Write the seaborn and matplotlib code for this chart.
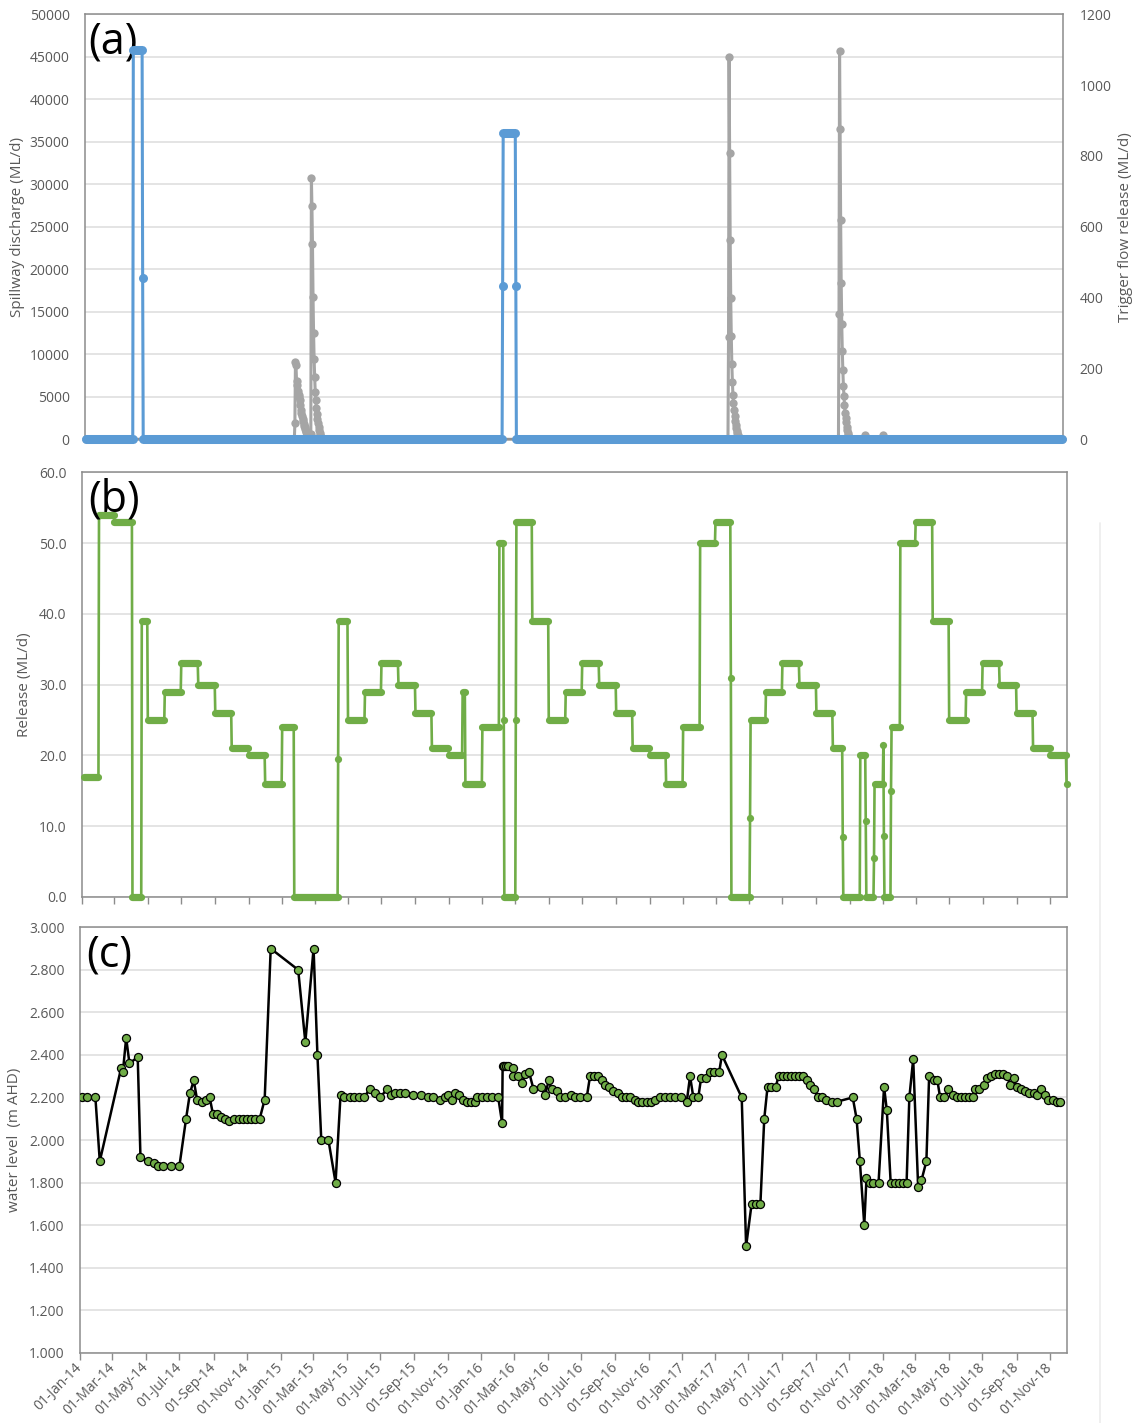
import numpy as np
import pandas as pd
import matplotlib
matplotlib.use("Agg")
import matplotlib.pyplot as plt
import matplotlib.dates as mdates
from matplotlib.lines import Line2D
from matplotlib.ticker import FixedLocator, FormatStrFormatter
import seaborn as sns

# ---------------- DATA ----------------
# (a) Trigger flow release (ML/d, right axis): constant runs (start, end, value)
trigger_start = ["2014-01-12", "2014-04-08", "2014-04-25", "2014-04-26",
                 "2016-02-09", "2016-02-10", "2016-03-04", "2016-03-05"]
trigger_end = ["2014-04-07", "2014-04-24", "2014-04-25", "2016-02-08",
               "2016-02-09", "2016-03-03", "2016-03-04", "2018-11-23"]
trigger_value = [0, 1100, 456, 0, 432, 864, 432, 0]

# (a) Spillway discharge (ML/d, left axis): daily values during spill events
spill_base_dates = ["2014-01-12", "2018-11-23"]
spill_2015_start = "2015-01-26"
spill_2015 = [0, 1950, 9100, 8700, 6900, 6400, 5700, 5300, 5000, 5200, 4600,
              4000, 3500, 3100, 2700, 2400, 2100, 1800, 1600, 1400, 1200, 1000,
              900, 800, 700, 600, 500, 400, 300, 200, 600, 30800, 27400, 23000,
              16800, 12500, 9400, 7300, 5600, 4600, 3700, 3000, 2400, 1900, 1500,
              1100, 800, 500, 300, 100, 0]
spill_2017a_start = "2017-03-25"
spill_2017a = [0, 12000, 45000, 33700, 23500, 16600, 12200, 8900, 6800, 5200,
               4300, 3500, 2800, 2200, 1700, 1300, 1000, 700, 500, 300, 200, 100, 0]
spill_2017b_start = "2017-10-12"
spill_2017b = [0, 14700, 45700, 36500, 25800, 18400, 13600, 10400, 8100, 6300,
               5100, 4000, 3100, 2500, 2000, 1500, 1100, 800, 500, 300, 150, 0]
spill_blip_dates = ["2017-11-29", "2017-11-30", "2017-12-01",
                    "2017-12-31", "2018-01-01", "2018-01-02"]
spill_blip_values = [0, 500, 0, 0, 500, 0]

# (b) Release (ML/d): constant runs (start, end, value); start == end -> single point
release_start = [
    "2014-01-05", "2014-02-01", "2014-03-01", "2014-04-03", "2014-04-20", "2014-05-01",
    "2014-06-01", "2014-07-01", "2014-08-01", "2014-09-01", "2014-10-01", "2014-11-01",
    "2014-12-01",
    "2015-01-01", "2015-01-23", "2015-04-13", "2015-04-14", "2015-05-01", "2015-06-01",
    "2015-07-01", "2015-08-01", "2015-09-01", "2015-10-01", "2015-11-01", "2015-11-26",
    "2015-12-01",
    "2016-01-01", "2016-02-01", "2016-02-09", "2016-02-10", "2016-03-02", "2016-03-03",
    "2016-04-01", "2016-05-01", "2016-06-01", "2016-07-01", "2016-08-01", "2016-09-01",
    "2016-10-01", "2016-11-01", "2016-12-01",
    "2017-01-01", "2017-02-01", "2017-03-01", "2017-03-29", "2017-03-30", "2017-05-03",
    "2017-05-04", "2017-06-01", "2017-07-01", "2017-08-01", "2017-09-01", "2017-10-01",
    "2017-10-19", "2017-10-20", "2017-11-20", "2017-11-30", "2017-12-01", "2017-12-15",
    "2017-12-16",
    "2018-01-01", "2018-01-02", "2018-01-03", "2018-01-15", "2018-01-16", "2018-02-01",
    "2018-03-01", "2018-04-01", "2018-05-01", "2018-06-01", "2018-07-01", "2018-08-01",
    "2018-09-01", "2018-10-01", "2018-11-01", "2018-12-01"]
release_end = [
    "2014-01-31", "2014-02-28", "2014-04-02", "2014-04-19", "2014-04-30", "2014-05-31",
    "2014-06-30", "2014-07-31", "2014-08-31", "2014-09-30", "2014-10-31", "2014-11-30",
    "2014-12-31",
    "2015-01-22", "2015-04-12", "2015-04-13", "2015-04-30", "2015-05-31", "2015-06-30",
    "2015-07-31", "2015-08-31", "2015-09-30", "2015-10-31", "2015-11-25", "2015-11-30",
    "2015-12-31",
    "2016-01-31", "2016-02-08", "2016-02-09", "2016-03-01", "2016-03-02", "2016-03-31",
    "2016-04-30", "2016-05-31", "2016-06-30", "2016-07-31", "2016-08-31", "2016-09-30",
    "2016-10-31", "2016-11-30", "2016-12-31",
    "2017-01-31", "2017-02-28", "2017-03-28", "2017-03-29", "2017-05-02", "2017-05-03",
    "2017-05-31", "2017-06-30", "2017-07-31", "2017-08-31", "2017-09-30", "2017-10-18",
    "2017-10-19", "2017-11-19", "2017-11-29", "2017-11-30", "2017-12-14", "2017-12-15",
    "2017-12-31",
    "2018-01-01", "2018-01-02", "2018-01-14", "2018-01-15", "2018-01-31", "2018-02-28",
    "2018-03-31", "2018-04-30", "2018-05-31", "2018-06-30", "2018-07-31", "2018-08-31",
    "2018-09-30", "2018-10-31", "2018-11-30", "2018-12-01"]
release_value = [
    17, 54, 53, 0, 39, 25, 29, 33, 30, 26, 21, 20, 16,
    24, 0, 19.5, 39, 25, 29, 33, 30, 26, 21, 20, 29, 16,
    24, 50, 25, 0, 25, 53, 39, 25, 29, 33, 30, 26, 21, 20, 16,
    24, 50, 53, 31, 0, 11.2, 25, 29, 33, 30, 26, 21, 8.5, 0, 20, 10.7, 0, 5.5, 16,
    21.5, 8.6, 0, 15, 24, 50, 53, 39, 25, 29, 33, 30, 26, 21, 20, 16]

# (c) Water level (m AHD): observation day (days after 01-Jan-2014) and value
level_day = [
    4, 13, 28, 36, 75, 78, 84, 90, 105, 110, 124, 135, 142, 151, 166, 181, 193, 200,
    207, 213, 222, 230, 236, 242, 250, 257, 264, 272, 280, 289, 297, 304, 312, 319,
    327, 336, 347, 397, 410, 425, 432, 439, 452, 465, 474, 481, 491, 498, 507, 517,
    527, 536, 546, 559, 565, 573, 582, 591,
    606, 620, 633, 643, 655, 664, 669, 676, 683, 690, 696, 704, 711, 719, 723, 731,
    740, 749, 761, 768, 769, 772, 775, 779, 787, 788, 797, 805, 810, 817, 825, 839,
    846, 853, 858, 867, 873, 882, 893, 901, 910, 922, 928, 936, 942, 949, 955, 962,
    970, 978, 986, 993, 1001, 1009, 1016, 1023, 1031, 1039, 1046, 1055, 1064, 1074,
    1083, 1094, 1104, 1110, 1116, 1125, 1130, 1139, 1146, 1154, 1163, 1168, 1204, 1212,
    1222, 1230, 1238, 1245, 1251, 1258, 1266, 1271, 1279, 1286, 1293, 1301, 1309, 1316,
    1322, 1328, 1336, 1342, 1350, 1357, 1368, 1377, 1406, 1413, 1419, 1427, 1431, 1437,
    1443, 1453, 1463, 1468, 1475, 1483, 1491, 1498, 1504, 1509, 1516, 1525, 1531, 1540,
    1545, 1553, 1560, 1565, 1572, 1580, 1588, 1595, 1603, 1610, 1618, 1625, 1629, 1636,
    1644, 1650, 1657, 1665, 1673, 1680, 1686, 1693, 1699, 1704, 1712, 1719, 1727, 1735,
    1741, 1748, 1756, 1762, 1770, 1777, 1783]
level_value = [
    2.20, 2.20, 2.20, 1.90, 2.34, 2.32, 2.48, 2.36, 2.39, 1.92, 1.90, 1.89, 1.88, 1.88,
    1.88, 1.88, 2.10, 2.22, 2.28, 2.19, 2.18, 2.19, 2.20, 2.12, 2.12, 2.11, 2.10, 2.09,
    2.10, 2.10, 2.10, 2.10, 2.10, 2.10, 2.10, 2.19, 2.90, 2.80, 2.46, 2.90, 2.40, 2.00,
    2.00, 1.80, 2.21, 2.20, 2.20, 2.20, 2.20, 2.20, 2.24, 2.22, 2.20, 2.24, 2.21, 2.22,
    2.22, 2.22,
    2.21, 2.21, 2.20, 2.20, 2.19, 2.20, 2.21, 2.19, 2.22, 2.21, 2.19, 2.18, 2.18, 2.18,
    2.20, 2.20, 2.20, 2.20, 2.20, 2.08, 2.35, 2.35, 2.35, 2.35, 2.34, 2.30, 2.30, 2.27,
    2.31, 2.32, 2.24, 2.25, 2.21, 2.28, 2.24, 2.23, 2.20, 2.20, 2.21, 2.20, 2.20, 2.20,
    2.30, 2.30, 2.30, 2.28, 2.26, 2.25, 2.23, 2.22, 2.20, 2.20, 2.20, 2.19, 2.18, 2.18,
    2.18, 2.18, 2.19, 2.20, 2.20, 2.20, 2.20, 2.20, 2.18, 2.30, 2.20, 2.20, 2.29, 2.29,
    2.32, 2.32, 2.32, 2.40, 2.20, 1.50,
    1.70, 1.70, 1.70, 2.10, 2.25, 2.25, 2.25, 2.30, 2.30, 2.30, 2.30, 2.30, 2.30, 2.30,
    2.28, 2.26, 2.24, 2.20, 2.20, 2.19, 2.18, 2.18, 2.20, 2.10, 1.90, 1.60, 1.82, 1.80,
    1.80, 1.80, 2.25, 2.14, 1.80, 1.80, 1.80, 1.80, 1.80, 2.20, 2.38, 1.78, 1.81, 1.90,
    2.30, 2.28, 2.28, 2.20, 2.20, 2.24, 2.21, 2.20, 2.20, 2.20, 2.20, 2.20, 2.24, 2.24,
    2.26, 2.29, 2.30, 2.31, 2.31, 2.31, 2.30, 2.26, 2.29, 2.25, 2.24, 2.23, 2.22, 2.22,
    2.21, 2.24, 2.21, 2.19, 2.19, 2.18, 2.18]

panel_labels = ["(a)", "(b)", "(c)"]
ylabel_a_left = "Spillway discharge (ML/d)"
ylabel_a_right = "Trigger flow release (ML/d)"
ylabel_b = "Release (ML/d)"
ylabel_c = "water level  (m AHD)"

# ---------------- STYLE ----------------
sns.set_theme(style="white")
plt.rcParams["font.family"] = ["Open Sans", "DejaVu Sans"]

BLUE = "#5b9bd5"
GRAY = "#a5a5a5"
GREEN = "#70ad47"
TICK_C = "#595959"
SPINE_C = "#8c8c8c"
GRID_C = "#dcdcdc"

FIG_W, FIG_H = 1134, 1423
fig = plt.figure(figsize=(FIG_W / 100, FIG_H / 100), dpi=100)


def axes_px(left, top, right, bottom):
    return fig.add_axes([left / FIG_W, 1 - bottom / FIG_H,
                         (right - left) / FIG_W, (bottom - top) / FIG_H])


BASE = pd.Timestamp("2014-01-01")
PX_PER_DAY = 0.5496
X0 = 80


def xlim_px(left, right):
    return (mdates.date2num(BASE + pd.Timedelta(days=(left - X0) / PX_PER_DAY)),
            mdates.date2num(BASE + pd.Timedelta(days=(right - X0) / PX_PER_DAY)))


def style(ax):
    for s in ax.spines.values():
        s.set_visible(True)
        s.set_color(SPINE_C)
        s.set_linewidth(1.1)
    ax.yaxis.grid(True, color=GRID_C, lw=1.1)
    ax.xaxis.grid(False)
    ax.set_axisbelow(True)
    ax.tick_params(axis="y", length=0, pad=11, labelsize=10, labelcolor=TICK_C)


def draw_runs(ax, starts, ends, values, color, thin, thick, ms):
    s = pd.to_datetime(starts)
    e = pd.to_datetime(ends)
    xs, ys = [], []
    for a, b, v in zip(s, e, values):
        xs.append(a); ys.append(v)
        if b != a:
            xs.append(b); ys.append(v)
    df = pd.DataFrame({"date": xs, "value": ys})
    sns.lineplot(data=df, x="date", y="value", ax=ax, color=color, lw=thin,
                 sort=False, estimator=None, clip_on=False, zorder=3)
    runs = [(a, b, v) for a, b, v in zip(s, e, values) if b != a]
    ax.hlines([r[2] for r in runs],
              mdates.date2num([r[0] for r in runs]),
              mdates.date2num([r[1] for r in runs]),
              colors=color, lw=thick, capstyle="round", clip_on=False, zorder=4)
    singles = [(a, v) for a, b, v in zip(s, e, values) if b == a]
    if singles:
        ax.plot(mdates.date2num([p[0] for p in singles]), [p[1] for p in singles],
                "o", color=color, ms=ms, mew=0, clip_on=False, zorder=4)


tick_dates = pd.date_range("2014-01-01", "2018-11-01", freq="2MS")

# ---------------- PANEL (a) ----------------
ax_a = axes_px(85, 14.3, 1063, 439.3)
style(ax_a)
spill_dates = [pd.Timestamp(spill_base_dates[0])]
spill_vals = [0]
for st, vals in [(spill_2015_start, spill_2015), (spill_2017a_start, spill_2017a),
                 (spill_2017b_start, spill_2017b)]:
    spill_dates += list(pd.date_range(st, periods=len(vals), freq="D"))
    spill_vals += vals
spill_dates += list(pd.to_datetime(spill_blip_dates)) + [pd.Timestamp(spill_base_dates[1])]
spill_vals += spill_blip_values + [0]
spill_df = pd.DataFrame({"date": spill_dates, "value": spill_vals})
sns.lineplot(data=spill_df, x="date", y="value", ax=ax_a, color=GRAY, lw=2.2,
             marker="o", markersize=6.0, markerfacecolor=GRAY, markeredgecolor=GRAY,
             markeredgewidth=0, sort=False, estimator=None, clip_on=False)
ax_a.set_xlim(*xlim_px(85, 1063))
ax_a.set_ylim(0, 50000)
ax_a.yaxis.set_major_locator(FixedLocator(np.arange(0, 50001, 5000)))
ax_a.yaxis.set_major_formatter(FormatStrFormatter("%d"))
ax_a.set_xticks([])
ax_a.set_xlabel("")
ax_a.set_ylabel(ylabel_a_left, fontsize=11, color=TICK_C, va="center")
ax_a.yaxis.set_label_coords(-0.0695, 0.5)

ax_a2 = ax_a.twinx()
draw_runs(ax_a2, trigger_start, trigger_end, trigger_value, BLUE, 2.2, 6.5, 6.5)
ax_a2.set_ylim(0, 1200)
ax_a2.yaxis.set_major_locator(FixedLocator(np.arange(0, 1201, 200)))
ax_a2.yaxis.set_major_formatter(FormatStrFormatter("%d"))
for s in ax_a2.spines.values():
    s.set_visible(False)
ax_a2.grid(False)
ax_a2.tick_params(axis="y", length=0, pad=12, labelsize=10, labelcolor=TICK_C)
ax_a2.set_xticks([])
ax_a2.set_xlabel("")
ax_a2.set_ylabel(ylabel_a_right, fontsize=11, color=TICK_C, va="center")
ax_a2.yaxis.set_label_coords(1.064, 0.5)
ax_a2.set_xlim(*xlim_px(85, 1063))
ax_a.text(0.003, 0.987, panel_labels[0], transform=ax_a.transAxes, fontsize=31,
          va="top", ha="left", color="black", zorder=10)

# ---------------- PANEL (b) ----------------
ax_b = axes_px(82, 472.3, 1067, 897)
style(ax_b)
draw_runs(ax_b, release_start, release_end, release_value, GREEN, 1.9, 5.2, 5.2)
ax_b.set_xlim(*xlim_px(82, 1067))
ax_b.set_ylim(0, 60)
ax_b.yaxis.set_major_locator(FixedLocator(np.arange(0, 61, 10)))
ax_b.yaxis.set_major_formatter(FormatStrFormatter("%.1f"))
ax_b.set_xticks(mdates.date2num(tick_dates))
ax_b.tick_params(axis="x", length=5, width=1, color=SPINE_C, direction="out",
                 labelbottom=False, bottom=True)
ax_b.set_xlabel("")
ax_b.set_ylabel(ylabel_b, fontsize=11, color=TICK_C, va="center")
ax_b.yaxis.set_label_coords(-0.058, 0.5)
ax_b.text(0.006, 0.987, panel_labels[1], transform=ax_b.transAxes, fontsize=31,
          va="top", ha="left", color="black", zorder=10)

# ---------------- PANEL (c) ----------------
ax_c = axes_px(80, 927.3, 1067, 1352.7)
style(ax_c)
level_df = pd.DataFrame({"date": BASE + pd.to_timedelta(level_day, unit="D"),
                         "value": level_value})
sns.lineplot(data=level_df, x="date", y="value", ax=ax_c, color="black", lw=1.8,
             marker="o", markersize=5.8, markerfacecolor=GREEN,
             markeredgecolor="black", markeredgewidth=0.9, sort=False, estimator=None,
             zorder=3)
ax_c.set_xlim(*xlim_px(80, 1067))
ax_c.set_ylim(1.0, 3.0)
ax_c.yaxis.set_major_locator(FixedLocator(np.round(np.arange(1.0, 3.01, 0.2), 1)))
ax_c.yaxis.set_major_formatter(FormatStrFormatter("%.3f"))
ax_c.set_xticks(mdates.date2num(tick_dates))
ax_c.xaxis.set_major_formatter(mdates.DateFormatter("%d-%b-%y"))
ax_c.tick_params(axis="x", length=5, width=1, color=SPINE_C, direction="out",
                 bottom=True, pad=4, labelsize=10, labelcolor=TICK_C)
for lbl in ax_c.get_xticklabels():
    lbl.set_rotation(45)
    lbl.set_ha("right")
    lbl.set_va("center")
    lbl.set_rotation_mode("anchor")
ax_c.set_xlabel("")
ax_c.set_ylabel(ylabel_c, fontsize=11, color=TICK_C, va="center")
ax_c.yaxis.set_label_coords(-0.066, 0.5)
ax_c.text(0.006, 0.987, panel_labels[2], transform=ax_c.transAxes, fontsize=31,
          va="top", ha="left", color="black", zorder=10)

# faint page edge line seen at right of the reference
fig.add_artist(Line2D([1100 / FIG_W, 1100 / FIG_W], [0, 1 - 523 / FIG_H],
                      transform=fig.transFigure, color="#ececec", lw=1.2))

fig.savefig("out.png", dpi=100, facecolor="white")
